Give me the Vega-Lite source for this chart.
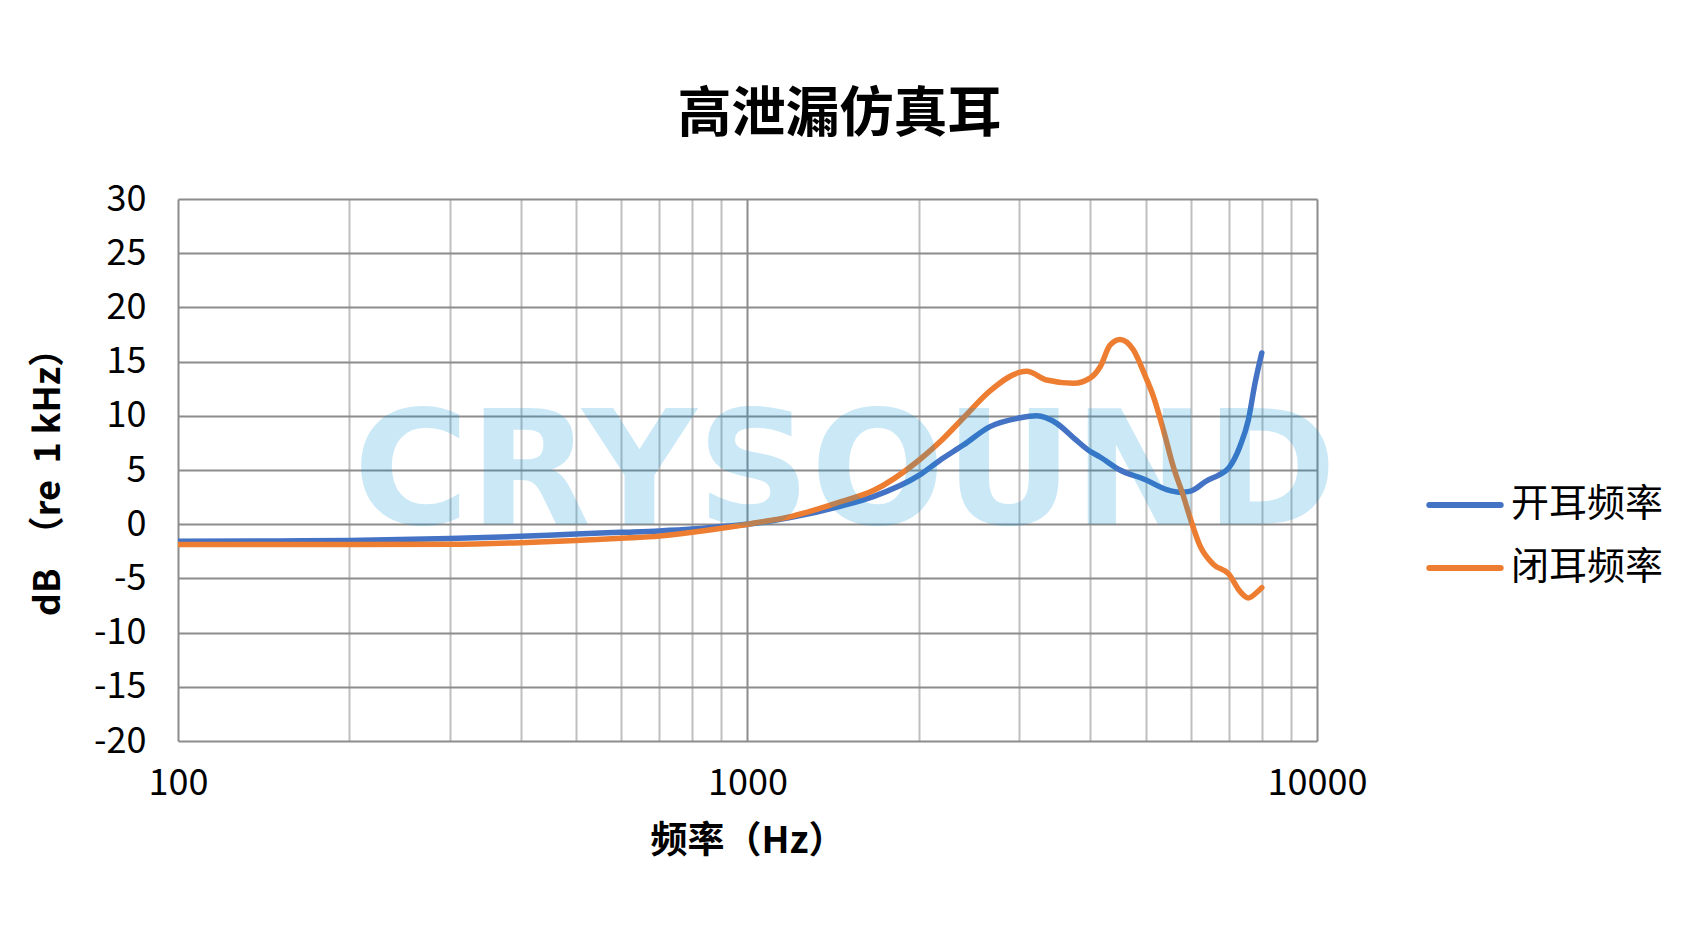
{
  "$schema": "https://vega.github.io/schema/vega-lite/v6.json",
  "autosize": {"type": "none"},
  "padding": {"left": 178, "top": 199, "right": 373, "bottom": 201},
  "width": 1139,
  "height": 542,
  "background": "white",
  "title": {
    "text": "高泄漏仿真耳",
    "font": "Noto Sans CJK SC",
    "fontSize": 54,
    "fontWeight": "bold",
    "color": "#000000",
    "anchor": "middle",
    "frame": "group",
    "dx": 92,
    "baseline": "alphabetic",
    "offset": -5
  },
  "config": {
    "view": {"stroke": null},
    "font": "Noto Sans CJK SC"
  },
  "datasets": {
    "curves": [
      {"f": 100, "db": -1.58, "s": "开耳频率"},
      {"f": 150, "db": -1.55, "s": "开耳频率"},
      {"f": 200, "db": -1.5, "s": "开耳频率"},
      {"f": 300, "db": -1.33, "s": "开耳频率"},
      {"f": 400, "db": -1.12, "s": "开耳频率"},
      {"f": 500, "db": -0.9, "s": "开耳频率"},
      {"f": 600, "db": -0.75, "s": "开耳频率"},
      {"f": 700, "db": -0.62, "s": "开耳频率"},
      {"f": 800, "db": -0.45, "s": "开耳频率"},
      {"f": 900, "db": -0.22, "s": "开耳频率"},
      {"f": 1000, "db": 0, "s": "开耳频率"},
      {"f": 1200, "db": 0.65, "s": "开耳频率"},
      {"f": 1454, "db": 1.65, "s": "开耳频率"},
      {"f": 1663, "db": 2.55, "s": "开耳频率"},
      {"f": 2000, "db": 4.5, "s": "开耳频率"},
      {"f": 2178, "db": 5.9, "s": "开耳频率"},
      {"f": 2393, "db": 7.3, "s": "开耳频率"},
      {"f": 2666, "db": 9.0, "s": "开耳频率"},
      {"f": 3000, "db": 9.8, "s": "开耳频率"},
      {"f": 3219, "db": 10.0, "s": "开耳频率"},
      {"f": 3491, "db": 9.3, "s": "开耳频率"},
      {"f": 3750, "db": 7.9, "s": "开耳频率"},
      {"f": 4000, "db": 6.7, "s": "开耳频率"},
      {"f": 4159, "db": 6.2, "s": "开耳频率"},
      {"f": 4508, "db": 5.0, "s": "开耳频率"},
      {"f": 5000, "db": 4.1, "s": "开耳频率"},
      {"f": 5445, "db": 3.2, "s": "开耳频率"},
      {"f": 5786, "db": 2.95, "s": "开耳频率"},
      {"f": 6000, "db": 3.05, "s": "开耳频率"},
      {"f": 6401, "db": 4.0, "s": "开耳频率"},
      {"f": 6757, "db": 4.6, "s": "开耳频率"},
      {"f": 7000, "db": 5.2, "s": "开耳频率"},
      {"f": 7325, "db": 7.2, "s": "开耳频率"},
      {"f": 7575, "db": 9.6, "s": "开耳频率"},
      {"f": 7783, "db": 13.0, "s": "开耳频率"},
      {"f": 8000, "db": 15.8, "s": "开耳频率"},
      {"f": 100, "db": -1.88, "s": "闭耳频率"},
      {"f": 200, "db": -1.88, "s": "闭耳频率"},
      {"f": 300, "db": -1.85, "s": "闭耳频率"},
      {"f": 400, "db": -1.7, "s": "闭耳频率"},
      {"f": 500, "db": -1.5, "s": "闭耳频率"},
      {"f": 600, "db": -1.3, "s": "闭耳频率"},
      {"f": 700, "db": -1.1, "s": "闭耳频率"},
      {"f": 800, "db": -0.75, "s": "闭耳频率"},
      {"f": 900, "db": -0.38, "s": "闭耳频率"},
      {"f": 1000, "db": 0, "s": "闭耳频率"},
      {"f": 1200, "db": 0.75, "s": "闭耳频率"},
      {"f": 1454, "db": 2.05, "s": "闭耳频率"},
      {"f": 1663, "db": 3.1, "s": "闭耳频率"},
      {"f": 2000, "db": 5.9, "s": "闭耳频率"},
      {"f": 2178, "db": 7.6, "s": "闭耳频率"},
      {"f": 2393, "db": 9.8, "s": "闭耳频率"},
      {"f": 2666, "db": 12.3, "s": "闭耳频率"},
      {"f": 3000, "db": 14.0, "s": "闭耳频率"},
      {"f": 3092, "db": 14.1, "s": "闭耳频率"},
      {"f": 3352, "db": 13.3, "s": "闭耳频率"},
      {"f": 3734, "db": 13.0, "s": "闭耳频率"},
      {"f": 4000, "db": 13.5, "s": "闭耳频率"},
      {"f": 4159, "db": 14.5, "s": "闭耳频率"},
      {"f": 4329, "db": 16.5, "s": "闭耳频率"},
      {"f": 4508, "db": 17.05, "s": "闭耳频率"},
      {"f": 4758, "db": 16.1, "s": "闭耳频率"},
      {"f": 5000, "db": 13.6, "s": "闭耳频率"},
      {"f": 5160, "db": 11.8, "s": "闭耳频率"},
      {"f": 5374, "db": 8.7, "s": "闭耳频率"},
      {"f": 5594, "db": 5.3, "s": "闭耳频率"},
      {"f": 5826, "db": 2.6, "s": "闭耳频率"},
      {"f": 6000, "db": 0.43, "s": "闭耳频率"},
      {"f": 6232, "db": -2.0, "s": "闭耳频率"},
      {"f": 6577, "db": -3.7, "s": "闭耳频率"},
      {"f": 7000, "db": -4.6, "s": "闭耳频率"},
      {"f": 7325, "db": -6.2, "s": "闭耳频率"},
      {"f": 7575, "db": -6.8, "s": "闭耳频率"},
      {"f": 7834, "db": -6.3, "s": "闭耳频率"},
      {"f": 8000, "db": -5.85, "s": "闭耳频率"}
    ],
    "mark": [{"w": "CRYSOUND"}]
  },
  "layer": [
    {
      "data": {"name": "curves"},
      "mark": {"type": "line", "strokeWidth": 5.5, "strokeCap": "round", "strokeJoin": "round", "interpolate": "monotone", "clip": true},
      "encoding": {
        "x": {
          "field": "f",
          "type": "quantitative",
          "scale": {"type": "log", "domain": [100, 10000], "nice": false},
          "axis": {
            "title": "频率（Hz）",
            "titleFont": "Noto Sans CJK SC",
            "titleFontSize": 37,
            "titleFontWeight": "bold",
            "titleColor": "#000000",
            "titlePadding": 22,
            "values": [100, 200, 300, 400, 500, 600, 700, 800, 900, 1000, 2000, 3000, 4000, 5000, 6000, 7000, 8000, 9000, 10000],
            "format": "d",
            "labelExpr": "(datum.value == 100 || datum.value == 1000 || datum.value == 10000) ? datum.label : ''",
            "labelFont": "Noto Sans CJK SC",
            "labelFontSize": 36,
            "labelColor": "#000000",
            "labelPadding": 25,
            "labelFlush": false,
            "labelOverlap": false,
            "labelBound": false,
            "ticks": false,
            "domain": false,
            "grid": true,
            "gridColor": {"condition": {"test": "datum.value == 100 || datum.value == 1000 || datum.value == 10000", "value": "#8c8c8c"}, "value": "#bfbfbf"},
            "gridWidth": 2,
            "gridOpacity": 1
          }
        },
        "y": {
          "field": "db",
          "type": "quantitative",
          "scale": {"domain": [-20, 30], "nice": false, "zero": false},
          "axis": {
            "title": "dB\u00a0\u00a0（re\u00a0\u00a01\u00a0kHz）",
            "titleFont": "Noto Sans CJK SC",
            "titleFontSize": 36,
            "titleFontWeight": "bold",
            "titleColor": "#000000",
            "titleAngle": 270,
            "titleAlign": "center",
            "titleBaseline": "middle",
            "titleX": -130,
            "titleY": 274,
            "values": [-20, -15, -10, -5, 0, 5, 10, 15, 20, 25, 30],
            "labelExpr": "replace(datum.label, '−', '-')",
            "labelFont": "Noto Sans CJK SC",
            "labelFontSize": 36,
            "labelColor": "#000000",
            "labelPadding": 32,
            "labelFlush": false,
            "labelOverlap": false,
            "ticks": false,
            "domain": false,
            "grid": true,
            "gridColor": "#8c8c8c",
            "gridWidth": 2,
            "gridOpacity": 1
          }
        },
        "color": {
          "field": "s",
          "type": "nominal",
          "sort": ["开耳频率", "闭耳频率"],
          "scale": {"domain": ["开耳频率", "闭耳频率"], "range": ["#4472C4", "#ED7D31"]},
          "legend": {
            "title": null,
            "orient": "none",
            "legendX": 1266,
            "legendY": 285,
            "padding": 0,
            "symbolType": "M-2,0H2",
            "symbolSize": 1274,
            "symbolStrokeWidth": 6,
            "labelFont": "Noto Sans CJK SC",
            "labelFontSize": 38,
            "labelColor": "#000000",
            "labelOffset": 25,
            "rowPadding": 23,
            "labelLimit": 400,
            "encode": {"symbols": {"update": {"strokeCap": {"value": "round"}}}}
          }
        }
      }
    },
    {
      "data": {"name": "mark"},
      "mark": {"type": "text", "font": "DejaVu Sans", "fontWeight": "bold", "fontSize": 158, "color": "#0091DA", "opacity": 0.2, "align": "center", "baseline": "alphabetic"},
      "encoding": {
        "x": {"datum": 1483, "type": "quantitative"},
        "y": {"datum": 0, "type": "quantitative"},
        "text": {"field": "w"}
      }
    }
  ]
}
